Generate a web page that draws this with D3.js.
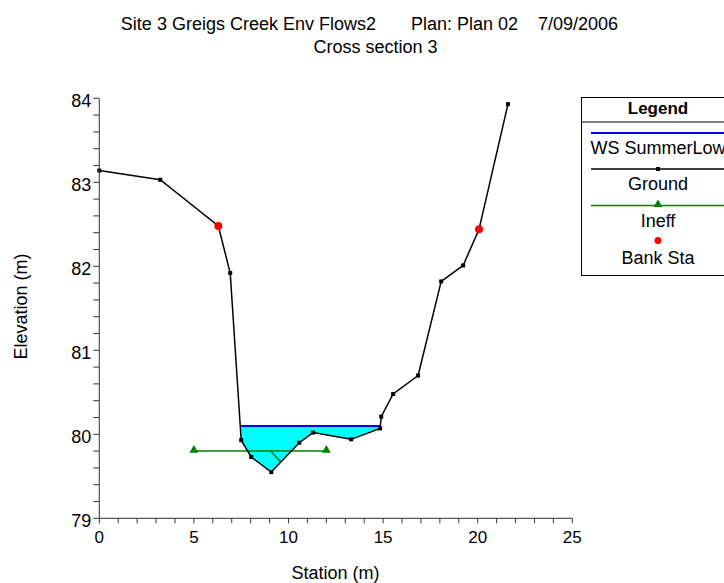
<!DOCTYPE html>
<html>
<head>
<meta charset="utf-8">
<script src="https://cdn.jsdelivr.net/npm/d3@7/dist/d3.min.js"></script>
<style>
  body { margin: 0; background: #fff; }
  svg { font-family: "Liberation Sans", Arial, sans-serif; }
</style>
</head>
<body>
<svg id="chart" width="724" height="583"></svg>
<script>
// Ground profile (station, elevation)
const groundStation = [0, 3.22, 6.29, 6.92, 7.5, 8.03, 9.09, 10.57, 11.3, 13.31, 14.84, 14.9, 15.53, 16.85, 18.07, 19.23, 20.07, 21.6];
const groundElev    = [83.14, 83.03, 82.48, 81.92, 79.93, 79.73, 79.55, 79.9, 80.02, 79.94, 80.07, 80.21, 80.48, 80.7, 81.82, 82.01, 82.44, 83.93];

// Bank stations
const bankStation = [6.29, 20.07];
const bankElev = [82.48, 82.44];

// Water surface (WS SummerLow)
const wsElev = 80.1;
const wsStation = [7.5, 14.84];

// Ineffective flow area
const ineffStation = [5, 12];
const ineffElev = 79.8;
const ineffHatchStation = [9.05, 9.6];
const ineffHatchElev = [79.8, 79.67];

// Axis ticks
const xTicks = [0, 5, 10, 15, 20, 25];
const yTicks = [79, 80, 81, 82, 83, 84];

const titleLine1 = "Site 3 Greigs Creek Env Flows2       Plan: Plan 02    7/09/2006";
const titleLine2 = "Cross section 3";
const legendItems = ["WS SummerLow", "Ground", "Ineff", "Bank Sta"];

const svg = d3.select("#chart");
const x = d3.scaleLinear().domain([0, 25]).range([99.3, 572.3]);
const y = d3.scaleLinear().domain([79, 84]).range([518.3, 98.3]);

const ground = groundStation.map((s, i) => ({ s, e: groundElev[i] }));
const FS = "18px";

// Titles
svg.append("text").attr("x", 369.5).attr("y", 30).attr("text-anchor", "middle")
  .style("font-size", FS).style("white-space", "pre").attr("xml:space", "preserve").text(titleLine1);
svg.append("text").attr("x", 375.5).attr("y", 52.5).attr("text-anchor", "middle")
  .style("font-size", FS).text(titleLine2);

// Water fill between water surface and ground
const wet = ground.filter(d => d.s >= wsStation[0] && d.s <= wsStation[1]);
const poly = [{ s: wsStation[0], e: wsElev }, { s: wsStation[1], e: wsElev }]
  .concat(wet.slice().reverse());
svg.append("path")
  .attr("d", d3.line().x(d => x(d.s)).y(d => y(d.e))(poly) + "Z")
  .attr("fill", "#00ffff").attr("stroke", "none");

// Water surface line
svg.append("line")
  .attr("x1", x(wsStation[0])).attr("x2", x(wsStation[1]))
  .attr("y1", y(wsElev)).attr("y2", y(wsElev))
  .attr("stroke", "#0000ff").attr("stroke-width", 2);

// Ineffective flow line and hatch
const green = "#008000";
svg.append("line")
  .attr("x1", x(ineffStation[0])).attr("x2", x(ineffStation[1]))
  .attr("y1", y(ineffElev)).attr("y2", y(ineffElev))
  .attr("stroke", green).attr("stroke-width", 1.5);
svg.append("line")
  .attr("x1", x(ineffHatchStation[0])).attr("x2", x(ineffHatchStation[1]))
  .attr("y1", y(ineffHatchElev[0])).attr("y2", y(ineffHatchElev[1]))
  .attr("stroke", green).attr("stroke-width", 1.5);
const tri = d3.symbol().type(d3.symbolTriangle).size(34);
svg.selectAll(".ineff").data(ineffStation).enter().append("path")
  .attr("transform", d => `translate(${x(d)},${y(ineffElev) - 1})`)
  .attr("d", tri).attr("fill", green);

// Ground line and markers
svg.append("path")
  .attr("d", d3.line().x(d => x(d.s)).y(d => y(d.e))(ground))
  .attr("fill", "none").attr("stroke", "#000").attr("stroke-width", 1.5);
svg.selectAll(".gpt").data(ground).enter().append("rect")
  .attr("x", d => x(d.s) - 2).attr("y", d => y(d.e) - 2)
  .attr("width", 4).attr("height", 4).attr("fill", "#000");

// Bank stations
svg.selectAll(".bank").data(bankStation).enter().append("circle")
  .attr("cx", d => x(d)).attr("cy", (d, i) => y(bankElev[i]))
  .attr("r", 4).attr("fill", "#ff0000");

// Axes
const axisColor = "#333";
const xAxis = svg.append("g").attr("transform", `translate(0,${y(79)})`);
xAxis.append("line").attr("x1", x(0)).attr("x2", x(25)).attr("stroke", axisColor);
xAxis.selectAll(".xm").data(d3.range(0, 26)).enter().append("line")
  .attr("x1", d => x(d)).attr("x2", d => x(d)).attr("y1", 0).attr("y2", 5).attr("stroke", axisColor);
xAxis.selectAll(".xl").data(xTicks).enter().append("text")
  .attr("x", d => x(d)).attr("y", 25).attr("text-anchor", "middle")
  .style("font-size", "17px").text(d => d);

const yAxis = svg.append("g").attr("transform", `translate(${x(0)},0)`);
yAxis.append("line").attr("y1", y(79)).attr("y2", y(84)).attr("stroke", axisColor);
yAxis.selectAll(".ym").data(d3.range(0, 26).map(i => 79 + i * 0.2)).enter().append("line")
  .attr("y1", d => y(d)).attr("y2", d => y(d)).attr("x1", -6).attr("x2", 0).attr("stroke", axisColor);
yAxis.selectAll(".yl").data(yTicks).enter().append("text")
  .attr("x", -8).attr("y", d => y(d) + 8.2).attr("text-anchor", "end")
  .style("font-size", FS).text(d => d);

// Axis titles
svg.append("text").attr("x", 335.5).attr("y", 579).attr("text-anchor", "middle")
  .style("font-size", FS).text("Station (m)");
svg.append("text").attr("transform", "translate(26.5,306.5) rotate(-90)")
  .attr("text-anchor", "middle").style("font-size", FS).text("Elevation (m)");

// Legend
const lg = svg.append("g");
const lx0 = 581.5, lx1 = 736, cx = 658;
lg.append("rect").attr("x", lx0).attr("y", 97.5).attr("width", lx1 - lx0).attr("height", 178)
  .attr("fill", "#fff").attr("stroke", "#000");
lg.append("line").attr("x1", lx0).attr("x2", lx1).attr("y1", 122).attr("y2", 122).attr("stroke", "#000");
lg.append("text").attr("x", cx).attr("y", 114).attr("text-anchor", "middle")
  .style("font-size", "17px").style("font-weight", "bold").text("Legend");
const rowY = [133, 169, 205.5, 240.5];
lg.append("line").attr("x1", 591).attr("x2", lx1).attr("y1", rowY[0]).attr("y2", rowY[0])
  .attr("stroke", "#0000ff").attr("stroke-width", 2);
lg.append("line").attr("x1", 591).attr("x2", lx1).attr("y1", rowY[1]).attr("y2", rowY[1])
  .attr("stroke", "#000").attr("stroke-width", 1.5);
lg.append("rect").attr("x", cx - 2).attr("y", rowY[1] - 2).attr("width", 4).attr("height", 4).attr("fill", "#000");
lg.append("line").attr("x1", 591).attr("x2", lx1).attr("y1", rowY[2]).attr("y2", rowY[2])
  .attr("stroke", green).attr("stroke-width", 1.5);
lg.append("path").attr("transform", `translate(${cx},${rowY[2] - 1})`).attr("d", tri).attr("fill", green);
lg.append("circle").attr("cx", cx).attr("cy", rowY[3]).attr("r", 3.5).attr("fill", "#ff0000");
const textY = [154, 190, 226.5, 263.5];
lg.selectAll(".lt").data(legendItems).enter().append("text")
  .attr("x", cx).attr("y", (d, i) => textY[i]).attr("text-anchor", "middle")
  .style("font-size", FS).text(d => d);
</script>
</body>
</html>
